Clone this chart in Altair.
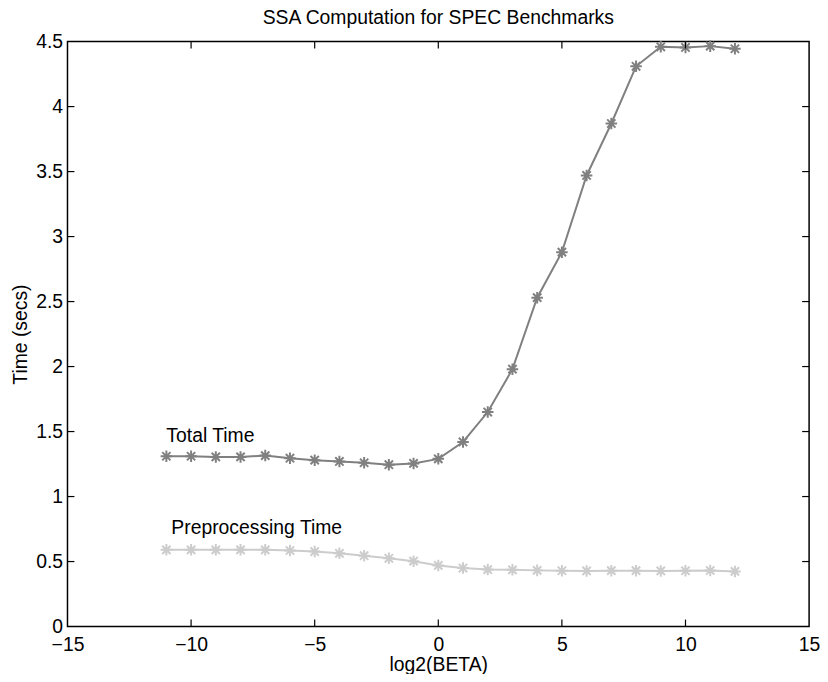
import altair as alt
import pandas as pd

# x values: log2(BETA)
beta = [-11, -10, -9, -8, -7, -6, -5, -4, -3, -2, -1, 0,
        1, 2, 3, 4, 5, 6, 7, 8, 9, 10, 11, 12]
total_time = [1.31, 1.31, 1.305, 1.305, 1.315, 1.295, 1.28, 1.27, 1.26, 1.245, 1.255, 1.29,
              1.42, 1.65, 1.98, 2.53, 2.88, 3.47, 3.87, 4.31, 4.46, 4.455, 4.465, 4.445]
prep_time = [0.59, 0.59, 0.59, 0.59, 0.59, 0.585, 0.577, 0.563, 0.545, 0.525, 0.503, 0.47,
             0.45, 0.438, 0.436, 0.432, 0.429, 0.428, 0.43, 0.43, 0.428, 0.429, 0.431, 0.424]

series_names = ["Total Time", "Preprocessing Time"]
series_colors = ["#808080", "#cccccc"]

label_text = ["Total Time", "Preprocessing Time"]
label_x = [-11.0, -10.8]
label_y = [1.465, 0.755]

x_ticks = [-15, -10, -5, 0, 5, 10, 15]
y_ticks = [0, 0.5, 1, 1.5, 2, 2.5, 3, 3.5, 4, 4.5]
x_inner = [-10, -5, 0, 5, 10]
y_inner = [0.5, 1, 1.5, 2, 2.5, 3, 3.5, 4]

W, H = 748, 590
TICK = 7
FONT = "Liberation Sans"
FS = 19.5

rows = []
for b, t, p in zip(beta, total_time, prep_time):
    rows.append({"beta": b, "time": t, "series": series_names[0]})
    rows.append({"beta": b, "time": p, "series": series_names[1]})
df = pd.DataFrame(rows)

labels_df = pd.DataFrame({"text": label_text, "beta": label_x, "time": label_y})
xt_df = pd.DataFrame({"v": x_inner})
yt_df = pd.DataFrame({"v": y_inner})

xscale = alt.Scale(domain=[-15, 15], nice=False, zero=False)
yscale = alt.Scale(domain=[0, 4.5], nice=False)
cscale = alt.Scale(domain=series_names, range=series_colors)

xaxis = alt.Axis(values=x_ticks, format="~g", title="log2(BETA)", grid=False,
                 domain=False, ticks=False, labelFlush=False, labelOverlap=False,
                 labelPadding=9, titlePadding=2)
yaxis = alt.Axis(values=y_ticks, format="~g", title="Time (secs)", grid=False,
                 domain=False, ticks=False, labelFlush=False, labelOverlap=False,
                 labelPadding=5, titlePadding=5)

asterisk = "M-1,0H1M0,-1V1M-0.72,-0.72L0.72,0.72M-0.72,0.72L0.72,-0.72"

base = alt.Chart(df)
lines = base.mark_line(strokeWidth=2).encode(
    x=alt.X("beta:Q", scale=xscale, axis=xaxis),
    y=alt.Y("time:Q", scale=yscale, axis=yaxis),
    color=alt.Color("series:N", scale=cscale, legend=None),
    detail="series:N",
)
points = base.mark_point(shape=asterisk, size=135, strokeWidth=2, filled=False, opacity=1).encode(
    x=alt.X("beta:Q", scale=xscale),
    y=alt.Y("time:Q", scale=yscale),
    color=alt.Color("series:N", scale=cscale, legend=None),
)
texts = alt.Chart(labels_df).mark_text(align="left", baseline="middle", font=FONT,
                                       fontSize=FS, color="black").encode(
    x=alt.X("beta:Q", scale=xscale),
    y=alt.Y("time:Q", scale=yscale),
    text="text:N",
)

tick_style = dict(color="black", strokeWidth=1.2)
bottom_ticks = alt.Chart(xt_df).mark_rule(**tick_style).encode(
    x=alt.X("v:Q", scale=xscale), y=alt.value(H), y2=alt.value(H - TICK))
top_ticks = alt.Chart(xt_df).mark_rule(**tick_style).encode(
    x=alt.X("v:Q", scale=xscale), y=alt.value(0), y2=alt.value(TICK))
left_ticks = alt.Chart(yt_df).mark_rule(**tick_style).encode(
    y=alt.Y("v:Q", scale=yscale), x=alt.value(0), x2=alt.value(TICK))
right_ticks = alt.Chart(yt_df).mark_rule(**tick_style).encode(
    y=alt.Y("v:Q", scale=yscale), x=alt.value(W), x2=alt.value(W - TICK))

chart = alt.layer(
    lines, points, texts, bottom_ticks, top_ticks, left_ticks, right_ticks
).properties(
    width=W, height=H,
    background="white",
    title=alt.TitleParams("SSA Computation for SPEC Benchmarks", font=FONT, fontSize=FS,
                          fontWeight="normal", color="black", offset=3, anchor="middle",
                          frame="group"),
    autosize=alt.AutoSizeParams(type="none"),
    padding={"left": 60, "top": 31, "right": 11, "bottom": 45},
).configure_view(
    stroke="black", strokeWidth=1.5
).configure_axis(
    labelFont=FONT, labelFontSize=FS, labelColor="black",
    titleFont=FONT, titleFontSize=FS, titleColor="black", titleFontWeight="normal",
)

chart.save("out.html", embed_options={"renderer": "svg", "actions": False})
